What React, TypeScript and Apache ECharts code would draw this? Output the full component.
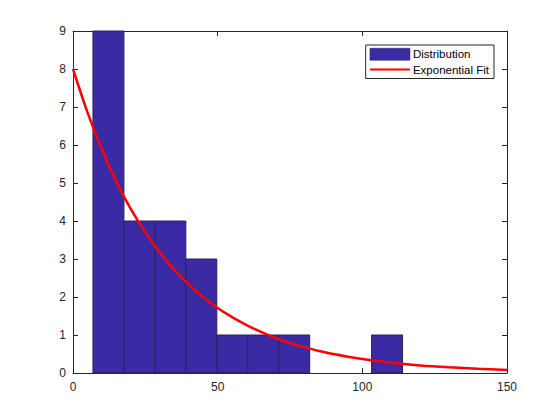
import { useEffect, useRef } from "react";
import * as echarts from "echarts";

// histogram bins (edges) and counts
const binStart = [6.9, 17.6, 28.3, 39.0, 49.7, 60.4, 71.1, 81.8, 92.5, 103.2];
const binEnd = [17.6, 28.3, 39.0, 49.7, 60.4, 71.1, 81.8, 92.5, 103.2, 113.9];
const counts = [9, 4, 4, 3, 1, 1, 1, 0, 0, 1];

// fitted curve
const fitX = [0, 5, 10, 15, 20, 25, 30, 35, 40, 45, 50, 55, 60, 65, 70, 75, 80, 85, 90, 95, 100, 110, 120, 130, 140, 150];
const fitY = [8.0, 6.86, 5.88, 5.03, 4.31, 3.7, 3.17, 2.72, 2.33, 1.99, 1.71, 1.47, 1.26, 1.08, 0.92, 0.79, 0.68, 0.58, 0.5, 0.43, 0.37, 0.27, 0.2, 0.15, 0.11, 0.08];

const xTicks = [0, 150];
const yTicks = [0, 9];

const font = "Arial, 'Liberation Sans', Helvetica, sans-serif";
const labelColor = "#262626";

export default function App() {
  const chartRef = useRef<HTMLDivElement>(null);

  useEffect(() => {
    if (!chartRef.current) return;
    const chart = echarts.init(chartRef.current, null, { renderer: "svg" });

    const histData = counts.map((c, i) => [binStart[i], binEnd[i], c]);
    const fitData = fitX.map((x, i) => [x, fitY[i]]);

    const axisBase = {
      type: "value" as const,
      axisLine: { show: true, onZero: false, lineStyle: { color: "#262626", width: 1 } },
      axisTick: { show: true, inside: true, length: 5, lineStyle: { color: "#262626" } },
      splitLine: { show: false },
    };

    const option = {
      animation: false,
      backgroundColor: "#ffffff",
      textStyle: { fontFamily: font },
      grid: { left: 73, right: 53, top: 31, bottom: 47, containLabel: false },
      legend: {
        right: 66,
        top: 45,
        orient: "vertical",
        backgroundColor: "#ffffff",
        borderColor: "#262626",
        borderWidth: 1,
        borderRadius: 0,
        padding: [3, 5, 3, 4],
        itemGap: 3,
        itemWidth: 40,
        itemHeight: 12,
        textStyle: { fontFamily: font, fontSize: 11.5, color: "#000000", padding: [0, 0, 0, -2] },
        data: [
          { name: "Distribution", icon: "rect", itemStyle: { color: "#3A2BA5", borderColor: "#2a2060", borderWidth: 0.5 } },
          { name: "Exponential Fit", icon: "path://M0,5 L40,5 L40,7 L0,7 Z", itemStyle: { color: "#ff0000" } },
        ],
      },
      xAxis: [
        {
          ...axisBase,
          min: xTicks[0],
          max: xTicks[1],
          interval: 50,
          axisLabel: { color: labelColor, fontSize: 12, fontFamily: font, margin: 8 },
        },
        {
          ...axisBase,
          position: "top",
          min: xTicks[0],
          max: xTicks[1],
          interval: 50,
          axisLabel: { show: false },
        },
      ],
      yAxis: [
        {
          ...axisBase,
          min: yTicks[0],
          max: yTicks[1],
          interval: 1,
          axisLabel: { color: labelColor, fontSize: 12, fontFamily: font, margin: 7 },
        },
        {
          ...axisBase,
          position: "right",
          min: yTicks[0],
          max: yTicks[1],
          interval: 1,
          axisLabel: { show: false },
        },
      ],
      series: [
        {
          name: "Distribution",
          type: "custom",
          xAxisIndex: 0,
          yAxisIndex: 0,
          encode: { x: [0, 1], y: 2 },
          data: histData,
          renderItem: (_params: any, api: any) => {
            const h = api.value(2);
            if (!h) return null;
            const p0 = api.coord([api.value(0), h]);
            const p1 = api.coord([api.value(1), 0]);
            return {
              type: "rect",
              shape: { x: p0[0], y: p0[1], width: p1[0] - p0[0], height: p1[1] - p0[1] },
              style: { fill: "#3A2BA5", stroke: "#2a2060", lineWidth: 1 },
            };
          },
          itemStyle: { color: "#3A2BA5" },
        },
        {
          name: "Exponential Fit",
          type: "line",
          xAxisIndex: 0,
          yAxisIndex: 0,
          data: fitData,
          smooth: 0.3,
          showSymbol: false,
          symbol: "none",
          lineStyle: { color: "#ff0000", width: 2.5 },
          itemStyle: { color: "#ff0000" },
          z: 5,
        },
      ],
    };

    chart.setOption(option);
    return () => chart.dispose();
  }, []);

  return (
    <div
      ref={chartRef}
      style={{ width: 560, height: 420, margin: -8 }}
    />
  );
}
